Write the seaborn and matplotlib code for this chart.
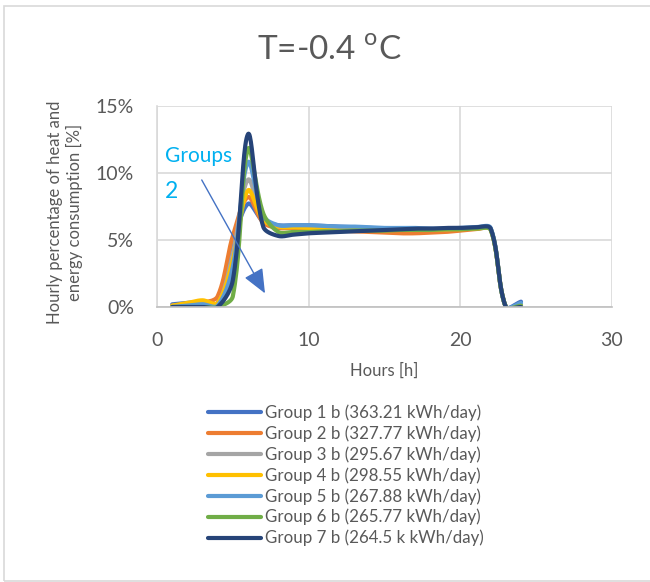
import numpy as np
import pandas as pd
import seaborn as sns
import matplotlib
matplotlib.use("Agg")
import matplotlib.pyplot as plt
from matplotlib.lines import Line2D
from matplotlib.patches import Rectangle

# ---------------- data ----------------
hours = list(range(1, 25))
group_labels = [
    "Group 1 b (363.21 kWh/day)",
    "Group 2 b (327.77 kWh/day)",
    "Group 3 b (295.67 kWh/day)",
    "Group 4 b (298.55 kWh/day)",
    "Group 5 b (267.88 kWh/day)",
    "Group 6 b (265.77 kWh/day)",
    "Group 7 b (264.5 k kWh/day)",
]
g1 = [0.2, 0.3, 0.4, 0.3, 4.6, 7.7, 6.4, 6.1, 6.1, 6.1, 6.05, 6.0, 5.95, 5.9, 5.85, 5.8, 5.8, 5.8, 5.8, 5.85, 5.9, 5.85, 0.0, 0.4]
g2 = [0.1, 0.2, 0.3, 0.8, 5.3, 8.2, 6.3, 5.9, 5.9, 5.85, 5.8, 5.7, 5.65, 5.6, 5.55, 5.5, 5.5, 5.55, 5.6, 5.7, 5.8, 5.8, 0.0, 0.1]
g3 = [0.1, 0.2, 0.3, 0.2, 4.0, 9.5, 6.6, 6.0, 6.0, 5.95, 5.9, 5.9, 5.85, 5.85, 5.8, 5.8, 5.8, 5.8, 5.8, 5.85, 5.9, 5.8, 0.0, 0.2]
g4 = [0.1, 0.3, 0.5, 0.3, 3.5, 8.7, 6.5, 6.0, 5.95, 5.9, 5.85, 5.8, 5.8, 5.8, 5.75, 5.75, 5.75, 5.75, 5.8, 5.8, 5.85, 5.8, 0.0, 0.1]
g5 = [0.0, 0.1, 0.2, 0.1, 3.0, 10.8, 6.8, 6.1, 6.1, 6.1, 6.05, 6.0, 6.0, 5.95, 5.9, 5.9, 5.9, 5.85, 5.85, 5.9, 5.95, 5.9, 0.0, 0.3]
g6 = [0.0, 0.0, 0.0, 0.0, 0.8, 11.8, 7.0, 5.6, 5.6, 5.6, 5.65, 5.65, 5.7, 5.7, 5.7, 5.75, 5.75, 5.75, 5.8, 5.8, 5.85, 5.75, 0.0, 0.1]
g7 = [0.0, 0.0, 0.0, 0.0, 2.0, 12.9, 6.0, 5.3, 5.4, 5.5, 5.55, 5.6, 5.65, 5.7, 5.75, 5.8, 5.85, 5.85, 5.9, 5.9, 5.95, 5.85, 0.0, 0.0]
series = [g1, g2, g3, g4, g5, g6, g7]
colors = ["#4472C4", "#ED7D31", "#A5A5A5", "#FFC000", "#5B9BD5", "#70AD47", "#264478"]
y_ticks = [0, 5, 10, 15]
x_ticks = [0, 10, 20, 30]

# axes geometry (pixels) used for the Excel-like smoothing in screen space
AX_L, AX_B, AX_W, AX_H = 157, 307, 455, 201
X_MAX, Y_MAX = 30, 15


def smooth(xs, ys, n=24):
    """Excel-style smoothed line: Bezier through the points with
    chord-length weighted control points, computed in screen space."""
    sx, sy = AX_W / X_MAX, AX_H / Y_MAX
    P = np.column_stack([np.asarray(xs, float) * sx, np.asarray(ys, float) * sy])
    m = len(P)
    t = np.linspace(0, 1, n, endpoint=False)[:, None]
    out = []
    for i in range(m - 1):
        p0 = P[i - 1] if i > 0 else P[i]
        p1, p2 = P[i], P[i + 1]
        p3 = P[i + 2] if i + 2 < m else P[i + 1]
        d01 = np.linalg.norm(p1 - p0)
        d12 = np.linalg.norm(p2 - p1)
        d23 = np.linalg.norm(p3 - p2)
        c1 = p1 + (p2 - p0) * (d12 / (d01 + d12)) / 3 if d01 + d12 > 0 else p1
        c2 = p2 - (p3 - p1) * (d12 / (d12 + d23)) / 3 if d12 + d23 > 0 else p2
        b = ((1 - t) ** 3) * p1 + 3 * ((1 - t) ** 2) * t * c1 + 3 * (1 - t) * t**2 * c2 + t**3 * p2
        out.append(b)
    out.append(P[-1][None, :])
    pts = np.vstack(out)
    return pts[:, 0] / sx, pts[:, 1] / sy


frames = []
for lab, vals in zip(group_labels, series):
    sxv, syv = smooth(hours, vals)
    frames.append(pd.DataFrame({"h": sxv, "v": syv, "group": lab}))
df = pd.concat(frames, ignore_index=True)

# ---------------- style ----------------
sns.set_style("white")
plt.rcParams["font.family"] = ["Lato", "DejaVu Sans"]
plt.rcParams["mathtext.fontset"] = "custom"
plt.rcParams["mathtext.rm"] = "Lato"
TXT = "#595959"

fig = plt.figure(figsize=(6.5, 5.82), dpi=100)
ax = fig.add_axes([AX_L / 650, 1 - AX_B / 582, AX_W / 650, AX_H / 582])

sns.lineplot(data=df, x="h", y="v", hue="group", hue_order=group_labels,
             palette=colors, sort=False, estimator=None, units="group",
             lw=3, legend=False, ax=ax, solid_capstyle="round")

ax.set_xlim(0, X_MAX)
ax.set_ylim(0, Y_MAX)
ax.set_xticks(x_ticks)
ax.set_yticks(y_ticks)
ax.set_yticklabels([f"{v}%" for v in y_ticks])
ax.tick_params(axis="both", length=0, labelsize=14, labelcolor=TXT)
ax.tick_params(axis="y", pad=16.5)
ax.tick_params(axis="x", pad=18)
ax.grid(True, color="#D9D9D9", lw=1.2)
ax.set_axisbelow(True)
for s in ["top", "right"]:
    ax.spines[s].set_visible(False)
ax.spines["left"].set_color("#D9D9D9")
ax.spines["bottom"].set_color("#BFBFBF")
ax.spines["left"].set_linewidth(1.2)
ax.spines["bottom"].set_linewidth(1.2)

ax.set_xlabel("Hours [h]", fontsize=12, color=TXT)
ax.xaxis.set_label_coords(0.5, -0.275)
ax.set_ylabel("Hourly percentage of heat and\nenergy consumption [%]", fontsize=12,
              color=TXT, linespacing=1.2)
ax.yaxis.set_label_coords(-0.162, 0.47)

fig.text(329 / 650, 1 - 51 / 582, r"T=-0.4 $^{\mathrm{o}}$C", fontsize=24, color=TXT,
         ha="center", va="center")

# annotation
ax.text(0.5, 11.3, "Groups", fontsize=15, color="#00B0F0", ha="left", va="center")
ax.text(0.55, 8.65, "2", fontsize=16.5, color="#00B0F0", ha="left", va="center")
ax.annotate("", xy=(7.12, 1.02), xytext=(2.95, 9.48),
            arrowprops=dict(arrowstyle="-|>,head_length=0.75,head_width=0.32",
                            color="#4472C4", lw=1, mutation_scale=20,
                            shrinkA=0, shrinkB=0))

# legend
handles = [Line2D([0], [0], color=c, lw=3) for c in colors]
leg = fig.legend(handles, group_labels, loc="upper left",
                 bbox_to_anchor=(203 / 650, 1 - 399 / 582), frameon=False,
                 fontsize=12.2, handlelength=3.1, handletextpad=0.25,
                 labelspacing=0.26, borderaxespad=0, borderpad=0.3)
for t in leg.get_texts():
    t.set_color(TXT)

# chart-area frame
fig.patches.append(Rectangle((4 / 650, 1 - 581 / 582), 1.1, 575 / 582,
                             transform=fig.transFigure, fill=False,
                             edgecolor="#D9D9D9", lw=1.2))

fig.savefig("out.png", dpi=100)
